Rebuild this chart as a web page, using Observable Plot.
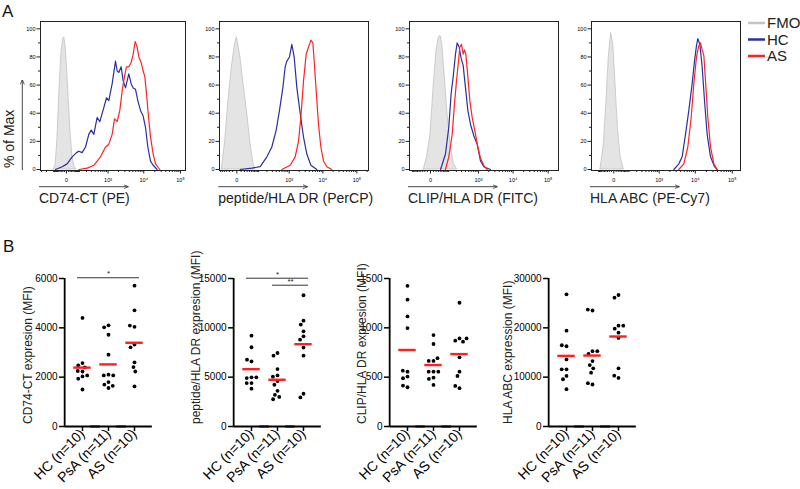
<!DOCTYPE html>
<html><head><meta charset="utf-8">
<script src="https://cdn.jsdelivr.net/npm/d3@7"></script>
<script src="https://cdn.jsdelivr.net/npm/@observablehq/plot@0.6"></script>
<style>
html,body{margin:0;padding:0;background:#fff;}
#root{position:relative;width:800px;height:489px;overflow:hidden;background:#fff;font-family:Arial,"Liberation Sans",sans-serif;}
#root svg{position:absolute;}
</style></head>
<body><div id="root"></div>
<script>
// ---------- Panel A: histogram data  [fluorescence value, % of max] ----------
const cd74_fmo = [[-97,0],[-79,3],[-62,20],[-45,55],[-30,83],[-18,93],[-12,94],[-5,88],[3,72],[12,50],[22,28],[35,10],[52,2],[70,0]];
const cd74_hc = [[-79,0],[-25,2],[3,4],[34,9],[70,12],[93,13],[133,12],[183,16],[243,25],[295,28],[362,25],[465,37],[564,34],[747,44],[898,51],[1051,49],[1314,61],[1636,77],[1826,70],[2035,69],[2368,73],[2694,63],[3128,58],[3872,68],[4496,61],[5104,58],[5920,57],[6864,49],[8128,42],[9624,38],[11144,30],[12912,16],[15272,6],[18064,3],[23208,0]];
const cd74_as = [[93,0],[212,1],[362,3],[592,9],[839,16],[1051,18],[1314,25],[1534,36],[1826,34],[2171,42],[2528,56],[2933,66],[3336,73],[3872,73],[4496,76],[5104,82],[5800,91],[6584,87],[7312,80],[8472,76],[9624,70],[10688,66],[11864,54],[13184,40],[15272,23],[18064,11],[20904,4],[27440,0]];

const pep_fmo = [[-53,0],[-36,20],[-23,49],[-12,73],[-4,89],[0,94],[7.5,81],[17,61],[29,42],[44,20],[62,4],[75,0]];
const pep_hc = [[7.5,0],[53,1],[115,2],[198,9],[289,16],[398,28],[505,42],[641,58],[756,73],[850,77],[1023,80],[1202,89],[1413,80],[1701,58],[2136,40],[2685,23],[3372,11],[4428,3],[6660,0]];
const pep_as = [[597,0],[1071,3],[1515,9],[1905,20],[2238,37],[2685,63],[3222,82],[3777,87],[4428,92],[5076,90],[5556,77],[6366,56],[7452,32],[8736,16],[10464,6],[13128,2],[18420,0]];

const clip_fmo = [[-25,0],[-11,9],[0,25],[11,61],[22,85],[33,94],[42,95],[52,89],[68,68],[89,42],[122,18],[162,4],[213,0]];
const clip_hc = [[42,0],[75,11],[104,30],[129,54],[154,66],[186,82],[213,90],[249,87],[290,79],[337,74],[400,58],[474,42],[573,32],[724,24],[911,18],[1144,6],[1437,2],[2245,0]];
const clip_as = [[75,0],[104,9],[141,25],[172,47],[202,63],[231,75],[262,87],[298,89],[337,82],[372,85],[410,82],[474,66],[546,49],[644,37],[812,25],[954,16],[1144,8],[1499,2],[1796,0]];

const hla_fmo = [[-81,0],[-54,18],[-36,49],[-23,80],[-11,97],[-2,89],[7,61],[18,30],[33,9],[55,0]];
const hla_hc = [[2577,0],[3540,4],[4372,9],[5399,25],[6653,42],[8203,61],[9494,77],[10754,88],[11693,93],[13255,89],[15334,73],[17747,49],[20960,25],[25824,9],[33140,2],[39120,0]];
const hla_as = [[3540,0],[4857,4],[6250,16],[7705,37],[9104,61],[10754,80],[12443,88],[13816,90],[15334,85],[17016,81],[18894,63],[21848,37],[25824,16],[31790,4],[39120,0]];

const HIST_Y_TICKS = [0, 20, 40, 60, 80, 100];
const HIST_X_TICKS = [0, 1e3, 1e4, 1e5];
const LEGEND = [{name: "FMO", color: "#c4c4c4"}, {name: "HC", color: "#2b2f9e"}, {name: "AS", color: "#ff2222"}];

// ---------- Panel B: MFI per donor ----------
const GROUPS = ["HC", "PsA", "AS"];
const cd74_HC  = [4400, 2570, 2480, 2400, 2230, 2250, 2030, 1940, 2070, 1500];
const cd74_PsA = [4100, 4020, 3720, 2910, 2100, 2070, 2070, 1800, 1700, 1560, 1650];
const cd74_AS  = [5710, 4710, 4040, 4090, 3320, 3210, 2600, 2410, 2230, 1630];
const pep_HC  = [9210, 8030, 6600, 6770, 4980, 4910, 4980, 4400, 4400, 3830];
const pep_PsA = [7450, 7180, 5820, 5180, 5050, 4600, 4230, 3620, 3210, 3000, 2760];
const pep_AS  = [13300, 10730, 10330, 9650, 9140, 8800, 8000, 7180, 3320, 2950];
const clip_HC  = [1426, 1285, 1116, 998, 556, 566, 506, 489, 398, 415];
const clip_PsA = [927, 836, 665, 665, 692, 556, 556, 556, 495, 482, 421];
const clip_AS  = [1254, 893, 870, 860, 893, 701, 556, 512, 388, 411];
const hla_HC  = [26790, 19420, 16270, 16470, 13600, 11590, 11590, 10250, 9580, 7570];
const hla_PsA = [23510, 23710, 15270, 14730, 15270, 13260, 12460, 11790, 10920, 8510, 8780];
const hla_AS  = [26660, 26120, 20430, 19830, 20430, 19020, 17950, 11790, 9850, 10310];

const sig_cd74 = [{from: "HC", to: "AS", y: 6030, label: "*"}];
const sig_pep  = [{from: "HC", to: "AS", y: 15030, label: "*"}, {from: "PsA", to: "AS", y: 14320, label: "**"}];

// ---------- layout ----------
const root = document.getElementById("root");
const FONT = "Arial, 'Liberation Sans', sans-serif";
const BLUE = "#2b2f9e", RED = "#ff2222";

function place(svg, left, top) {
  svg.style.position = "absolute";
  svg.style.left = left + "px";
  svg.style.top = top + "px";
  svg.style.background = "transparent";
  svg.style.overflow = "visible";
  svg.style.maxWidth = "none";
  svg.style.fontFamily = FONT;
  root.appendChild(svg);
}

const SUP = {"3": "³", "4": "⁴", "5": "⁵", "2": "²"};
const histFmt = d => d === 0 ? "0" : "10" + SUP[String(Math.round(Math.log10(d)))];
const MINOR_X = [].concat(
  d3.range(-900, -99, 100), d3.range(-90, 0, 10), d3.range(10, 100, 10),
  d3.range(100, 1000, 100), d3.range(2000, 10000, 1000), d3.range(20000, 100000, 10000), [200000]);

const HIST = [
  {label: "CD74-CT (PE)", left: 40, w: 145, c: 80, domain: [-327, 137100], fmo: cd74_fmo, hc: cd74_hc, as: cd74_as},
  {label: "peptide/HLA DR (PerCP)", left: 219.3, w: 149, c: 30, domain: [-67, 219400], fmo: pep_fmo, hc: pep_hc, as: pep_as},
  {label: "CLIP/HLA DR (FITC)", left: 409, w: 149, c: 45, domain: [-133, 196400], fmo: clip_fmo, hc: clip_hc, as: clip_as},
  {label: "HLA ABC (PE-Cy7)", left: 591, w: 149, c: 63, domain: [-189, 167200], fmo: hla_fmo, hc: hla_hc, as: hla_as}
];

const HTOP = 21, HH = 149;
for (const p of HIST) {
  const mL = 22, mR = 3, mT = 2, mB = 20;
  const minor = MINOR_X.filter(v => v > p.domain[0] && v < p.domain[1]);
  const svg = Plot.plot({
    width: mL + p.w + mR, height: mT + HH + mB,
    marginLeft: mL, marginRight: mR, marginTop: mT, marginBottom: mB,
    x: {type: "symlog", constant: p.c, domain: p.domain},
    y: {domain: [-0.71, 105.2]},
    marks: [
      Plot.areaY(p.fmo, {x: d => d[0], y1: 0, y2: d => d[1], fill: "#e4e4e4", stroke: "#c2c2c2", strokeWidth: 0.8}),
      Plot.line(p.hc, {x: d => d[0], y: d => d[1], stroke: BLUE, strokeWidth: 1.2}),
      Plot.line(p.as, {x: d => d[0], y: d => d[1], stroke: RED, strokeWidth: 1.2}),
      Plot.frame({stroke: "#222", strokeWidth: 1}),
      Plot.axisY({ticks: HIST_Y_TICKS, tickSize: 3.5, tickPadding: 1.5, fontSize: 5.5, label: null, tickFormat: "d", stroke: "#222"}),
      Plot.axisY({ticks: [10, 30, 50, 70, 90], tickSize: 2, tickFormat: () => "", label: null, stroke: "#222"}),
      Plot.axisX({ticks: HIST_X_TICKS, tickSize: 3.5, tickPadding: 4, fontSize: 5.5, label: null, tickFormat: histFmt, stroke: "#222"}),
      Plot.axisX({ticks: minor, tickSize: 2, tickFormat: () => "", label: null, stroke: "#222"})
    ]
  });
  place(svg, p.left - mL, HTOP - mT);
}

// ---------- Panel B plots ----------
const PAD = 0.186, EXT = 0.19;
const DOT = [
  {title: "CD74-CT expresion (MFI)", axisLeft: 63.3, titleX: 32, max: 6000, ticks: [0, 2000, 4000, 6000], values: {HC: cd74_HC, PsA: cd74_PsA, AS: cd74_AS}, sig: sig_cd74},
  {title: "peptide/HLA DR expresion (MFI)", axisLeft: 231.7, titleX: 200, max: 15000, ticks: [0, 5000, 10000, 15000], values: {HC: pep_HC, PsA: pep_PsA, AS: pep_AS}, sig: sig_pep},
  {title: "CLIP/HLA DR expresion (MFI)", axisLeft: 388.3, titleX: 366, max: 1500, ticks: [0, 500, 1000, 1500], values: {HC: clip_HC, PsA: clip_PsA, AS: clip_AS}, sig: []},
  {title: "HLA ABC  expression (MFI)", axisLeft: 546.7, titleX: 512, max: 30000, ticks: [0, 10000, 20000, 30000], values: {HC: hla_HC, PsA: hla_PsA, AS: hla_AS}, sig: []}
];
const BTOP = 278, BH = 148, BW = 90;

for (const p of DOT) {
  const mL = 48, mR = 8, mT = 22, mB = 60;
  const rows = [];
  GROUPS.forEach(g => p.values[g].forEach(v => rows.push({group: g, value: v})));
  const counts = Object.fromEntries(GROUPS.map(g => [g, p.values[g].length]));
  const step = BW / (GROUPS.length + 2 * PAD);
  const segs = [], stars = [];
  for (const s of p.sig) {
    const i1 = GROUPS.indexOf(s.from), i2 = GROUPS.indexOf(s.to);
    for (let i = i1; i <= i2; i++) segs.push({group: GROUPS[i], y: s.y, x1: i === i1 ? -EXT : -0.5, x2: i === i2 ? EXT : 0.5});
    const mid = (i1 + i2) / 2, fi = Math.floor(mid);
    stars.push({group: GROUPS[fi], x: mid - fi, y: s.y, label: s.label});
  }
  const svg = Plot.plot({
    width: mL + BW + mR, height: mT + BH + mB,
    marginLeft: mL, marginRight: mR, marginTop: mT, marginBottom: mB,
    facet: {marginTop: 0, marginRight: 0, marginBottom: 0, marginLeft: 0},
    fx: {domain: GROUPS, paddingInner: 0, paddingOuter: PAD, align: 0.5, axis: null},
    x: {domain: [-0.5, 0.5], axis: null},
    y: {domain: [0, p.max]},
    marks: [
      Plot.ruleY([0], {x1: () => -0.5 - PAD, x2: () => 0.5 + PAD, stroke: "#000", strokeWidth: 1.8}),
      Plot.ruleX([GROUPS[0]], {fx: d => d, x: () => -0.5 - PAD, stroke: "#000", strokeWidth: 1.8}),
      Plot.axisY({ticks: p.ticks, tickFormat: "d", tickSize: 5, tickPadding: 2, fontSize: 10, label: null, dx: -PAD * step, strokeWidth: 1.5, stroke: "#000"}),
      Plot.axisFx({anchor: "bottom", tickSize: 5, tickRotate: -45, textAnchor: "end", lineAnchor: "middle", tickPadding: 0, fontSize: 14, label: null, strokeWidth: 1.5, stroke: "#000",
        tickFormat: g => `${g} (n=${counts[g]})`}),
      Plot.ruleY(segs, {fx: "group", y: "y", x1: "x1", x2: "x2", stroke: "#333", strokeWidth: 1}),
      Plot.text(stars, {fx: "group", x: "x", y: "y", text: "label", dy: -4, fontSize: 8, fill: "#222"}),
      Plot.dot(rows, Plot.dodgeX("middle", {fx: "group", y: "value", r: 1.9, fill: "#000", padding: 0.6})),
      Plot.tickY(rows, Plot.groupZ({y: "mean"}, {fx: "group", y: "value", stroke: "#ff1f1f", strokeWidth: 2.4, insetLeft: 4.3, insetRight: 4.3}))
    ]
  });
  place(svg, p.axisLeft - mL, BTOP - mT);
}

// ---------- annotations overlay (panel letters, axis captions, legend) ----------
const NS = "http://www.w3.org/2000/svg";
const ov = document.createElementNS(NS, "svg");
ov.setAttribute("width", 800); ov.setAttribute("height", 489);
ov.style.left = "0px"; ov.style.top = "0px"; ov.style.pointerEvents = "none"; ov.style.overflow = "visible";
ov.setAttribute("font-family", FONT);
root.appendChild(ov);
function el(tag, attrs, text) {
  const e = document.createElementNS(NS, tag);
  for (const k in attrs) e.setAttribute(k, attrs[k]);
  if (text != null) e.textContent = text;
  ov.appendChild(e);
  return e;
}
const defs = el("defs", {});
const mk = document.createElementNS(NS, "marker");
for (const [k, v] of Object.entries({id: "ah", viewBox: "0 0 10 10", refX: 9, refY: 5, markerWidth: 5, markerHeight: 5, markerUnits: "userSpaceOnUse", orient: "auto"})) mk.setAttribute(k, v);
const mp = document.createElementNS(NS, "path");
mp.setAttribute("d", "M0,1 L10,5 L0,9"); mp.setAttribute("fill", "none"); mp.setAttribute("stroke", "#333"); mp.setAttribute("stroke-width", 1.5);
mk.appendChild(mp); defs.appendChild(mk);

el("text", {x: 2, y: 17, "font-size": 17, fill: "#111"}, "A");
el("text", {x: 3, y: 252, "font-size": 17, fill: "#111"}, "B");

// % of Max caption with arrow
el("line", {x1: 22.3, y1: 170, x2: 22.3, y2: 80, stroke: "#333", "stroke-width": 0.9, "marker-end": "url(#ah)"});
el("text", {transform: "translate(14,168) rotate(-90)", "font-size": 14, fill: "#222"}, "% of Max");

for (const p of HIST) {
  const x0 = p.left - 1;
  el("line", {x1: x0, y1: 186.7, x2: x0 + 89, y2: 186.7, stroke: "#333", "stroke-width": 0.9, "marker-end": "url(#ah)"});
  el("text", {x: x0, y: 202.5, "font-size": 14, fill: "#222"}, p.label);
}

LEGEND.forEach((s, i) => {
  const y = [23, 39.5, 56][i];
  el("line", {x1: 748, y1: y, x2: 765, y2: y, stroke: s.color, "stroke-width": 2.5});
  el("text", {x: 767, y: y + 5.3, "font-size": 15, fill: "#222"}, s.name);
});

for (const p of DOT) {
  el("text", {transform: `translate(${p.titleX},424) rotate(-90)`, "font-size": 12, fill: "#222"}, p.title);
}
</script>
</body></html>
